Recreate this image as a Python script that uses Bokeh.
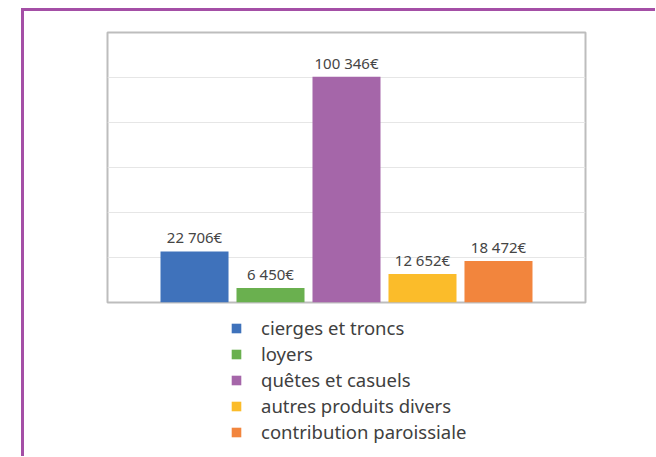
from bokeh.plotting import figure
from bokeh.layouts import column
from bokeh.models import (ColumnDataSource, Legend, LegendItem, SingleIntervalTicker,
                          Range1d, Grid)
from bokeh.core.properties import value
from bokeh.embed import file_html
from bokeh.resources import INLINE

categories = ["cierges et troncs", "loyers", "quêtes et casuels",
              "autres produits divers", "contribution paroissiale"]
values = [22706, 6450, 100346, 12652, 18472]
labels = ["22 706€", "6 450€", "100 346€", "12 652€", "18 472€"]
colors = ["#3f72bb", "#6ab04f", "#a566a9", "#fbbc2a", "#f2853d"]

idx = list(range(len(categories)))
src = ColumnDataSource(dict(x=idx, top=values, label=labels, color=colors, cat=categories))

# chart
p = figure(width=631, height=293, output_backend="svg", toolbar_location=None,
           x_range=Range1d(-1.145, 5.145), y_range=Range1d(0, 120000),
           x_axis_location=None, y_axis_location=None,
           min_border_left=83, min_border_right=70, min_border_top=21, min_border_bottom=2)
p.center = [c for c in p.center if not isinstance(c, Grid)]
p.add_layout(Grid(dimension=1, ticker=SingleIntervalTicker(interval=20000),
                  grid_line_color="#e6e6e6", grid_line_width=1))
p.vbar(x="x", top="top", width=0.895, color="color", line_color=None, source=src)
p.text(x="x", y="top", text="label", source=src, y_offset=-14, text_align="center",
       text_baseline="alphabetic", text_font_size="15px", text_color="#454545",
       text_font=value("Noto Sans"))
p.outline_line_color = "#bdbdbd"
p.outline_line_width = 2
p.background_fill_color = "white"
p.border_fill_color = "white"

# legend area
q = figure(width=631, height=152, output_backend="svg", toolbar_location=None,
           x_range=Range1d(-1.145, 5.145), y_range=Range1d(500000, 600000),
           x_axis_location=None, y_axis_location=None,
           min_border_left=0, min_border_right=0, min_border_top=0, min_border_bottom=0)
q.center = [c for c in q.center if not isinstance(c, Grid)]
rq = q.vbar(x="x", top="top", width=0.895, color="color", line_color=None, source=src)
q.outline_line_color = None
q.background_fill_color = "white"
q.border_fill_color = "white"

items = [LegendItem(label=c, renderers=[rq], index=i) for i, c in enumerate(categories)]
legend = Legend(items=items, location=(123, 12), orientation="vertical",
                label_text_font="Noto Sans", label_text_font_size="18.5px",
                label_text_color="#404040", glyph_width=12, glyph_height=12,
                label_standoff=19, label_height=25, spacing=1, padding=0, margin=0,
                border_line_color=None, background_fill_alpha=0)
q.add_layout(legend, "center")

layout = column(p, q, spacing=0)
layout.margin = (8, 0, 0, 21)
layout.styles = {"border-left": "3px solid #a44fa6", "border-top": "3px solid #a44fa6"}

open("out.html", "w").write(file_html(layout, INLINE))
